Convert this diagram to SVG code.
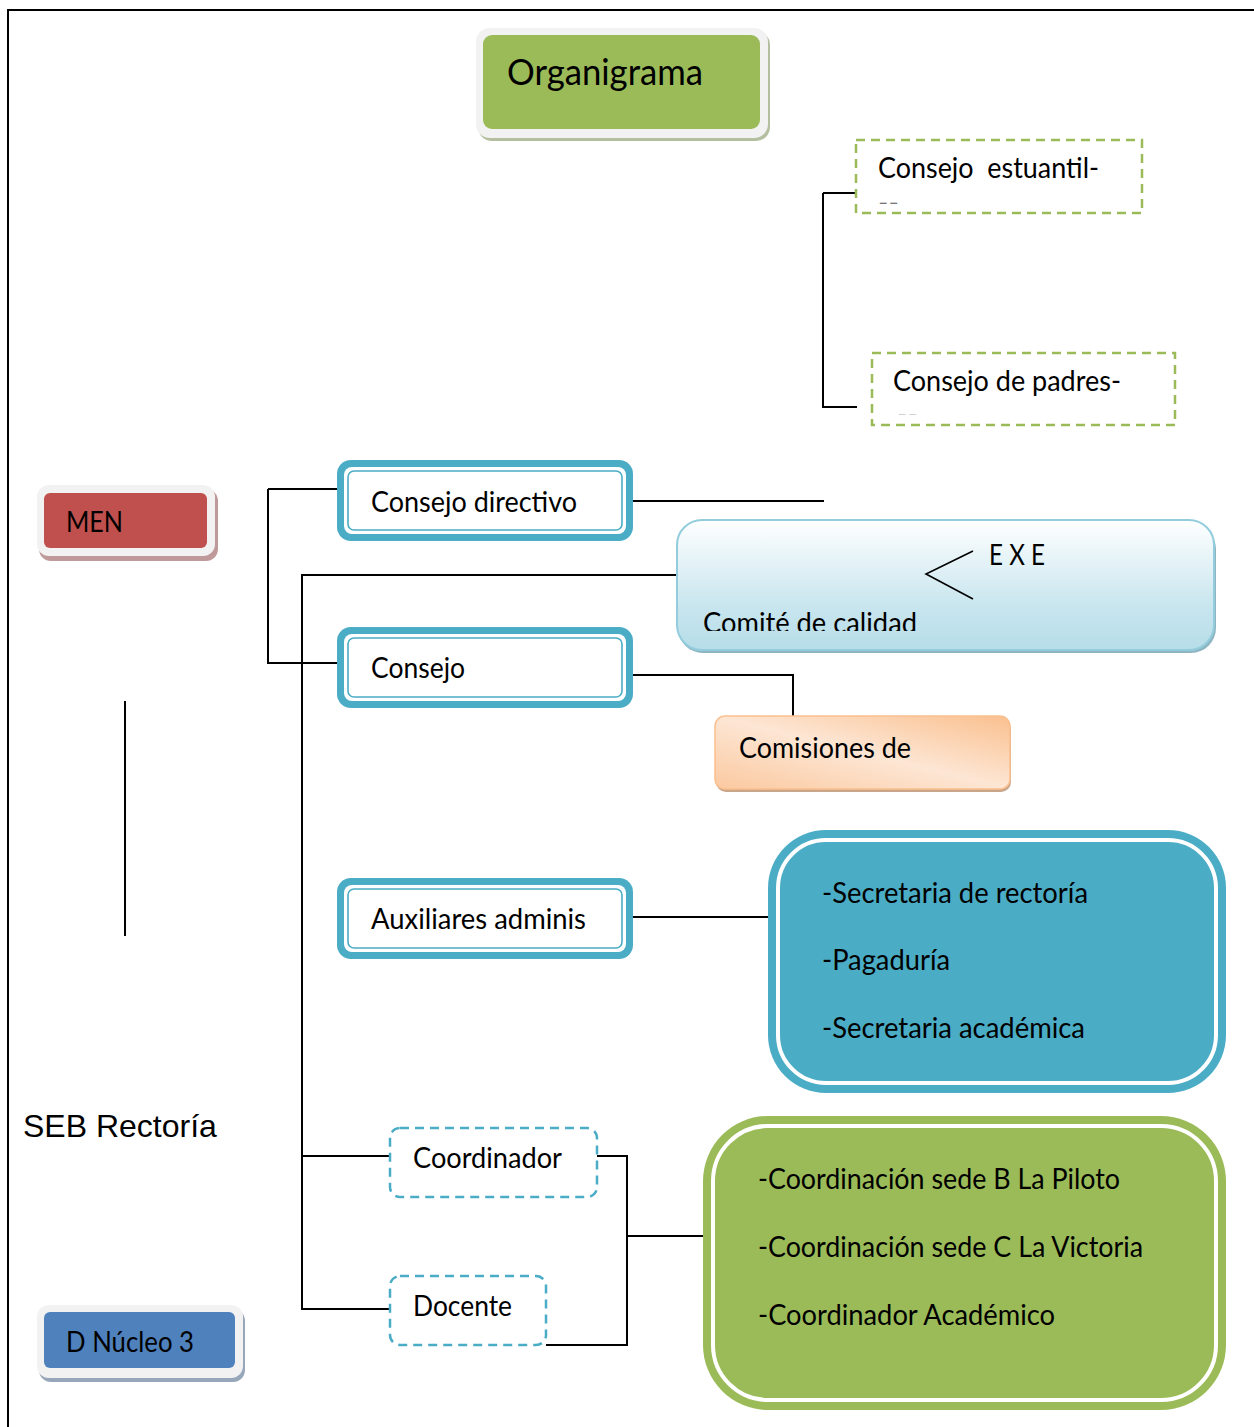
<svg xmlns="http://www.w3.org/2000/svg" width="1254" height="1427" viewBox="0 0 1254 1427">
<style>
.t{font-family:Lato,"Open Sans","Noto Sans",sans-serif;font-size:28px;fill:#000;white-space:pre}
.conn{stroke:#000;stroke-width:2;fill:none}
.bo{fill:#4bacc6}
.bw{fill:#fff}
.bl{fill:none;stroke:#4bacc6;stroke-width:1.6}
.dg{fill:#fff;stroke:#9bbb59;stroke-width:2.5;stroke-dasharray:9 6}
.db{fill:#fff;stroke:#4bacc6;stroke-width:2.5;stroke-dasharray:9 6}
.pl{fill:#f2f2f2}
</style>
<defs>
<linearGradient id="gCal" x1="0" y1="0" x2="0" y2="1">
<stop offset="0" stop-color="#ffffff"/>
<stop offset="0.65" stop-color="#c9e6ef"/>
<stop offset="1" stop-color="#b6dde8"/>
</linearGradient>
<linearGradient id="gCom" x1="1" y1="0" x2="0" y2="1">
<stop offset="0" stop-color="#fac08f"/>
<stop offset="0.5" stop-color="#fde6d4"/>
<stop offset="1" stop-color="#fbc9a0"/>
</linearGradient>
<clipPath id="cEst"><rect x="856" y="140" width="286" height="63.5"/></clipPath>
<clipPath id="cPad"><rect x="872" y="353" width="303" height="62"/></clipPath>
<clipPath id="cCal"><rect x="677" y="520" width="538" height="111"/></clipPath>
</defs>

<path d="M8,1427 V10 H1254" stroke="#000" stroke-width="2" fill="none"/>

<g id="connectors">
<path class="conn" d="M823,193 H856 M823,193 V407 H857"/>
<path class="conn" d="M633,501 H824"/>
<path class="conn" d="M268,489 H345 M268,489 V663 H345"/>
<path class="conn" d="M677,575 H302 V1309 H390 M302,1156 H390"/>
<path class="conn" d="M627,675 H793 V716"/>
<path class="conn" d="M627,917 H780"/>
<path class="conn" d="M597,1156 H627 V1345 H546 M627,1236 H703"/>
<path class="conn" d="M125,701 V936"/>
</g>

<g id="organigrama">
<rect x="478" y="31" width="292" height="110" rx="14" fill="#b3bf9f"/>
<rect x="476" y="28" width="292" height="110" rx="14" class="pl"/>
<rect x="483" y="35" width="277" height="94" rx="9" fill="#9bbb59"/>
<text class="t" x="507" y="85" style="font-size:36px" textLength="196" lengthAdjust="spacingAndGlyphs">Organigrama</text>
</g>

<g id="consejo-estudiantil">
<rect class="dg" x="856" y="140" width="286" height="73"/>
<text class="t" x="878" y="178" textLength="221" lengthAdjust="spacingAndGlyphs">Consejo  estuantil-</text>
<text class="t" x="878" y="213" clip-path="url(#cEst)">--</text>
</g>

<g id="consejo-padres">
<rect class="dg" x="872" y="353" width="303" height="72"/>
<text class="t" x="893" y="391" textLength="228" lengthAdjust="spacingAndGlyphs">Consejo de padres-</text>
<text class="t" x="897" y="425" clip-path="url(#cPad)">--</text>
</g>

<g id="men">
<rect x="39" y="489" width="179" height="72" rx="12" fill="#c09a9a"/>
<rect x="37" y="485" width="178" height="71" rx="12" class="pl"/>
<rect x="44" y="493" width="163" height="55" rx="6" fill="#c0504d"/>
<text class="t" x="66" y="532" textLength="57" lengthAdjust="spacingAndGlyphs">MEN</text>
</g>

<g id="consejo-directivo">
<rect class="bo" x="337" y="460" width="296" height="81" rx="14"/>
<rect class="bw" x="344" y="467" width="282" height="67" rx="8"/>
<rect class="bl" x="348" y="471" width="274" height="59" rx="6"/>
<text class="t" x="371" y="512" textLength="206" lengthAdjust="spacingAndGlyphs">Consejo directivo</text>
</g>

<g id="comite-calidad">
<rect x="678" y="524" width="538" height="129" rx="25" fill="#8fb5c2"/>
<rect x="677" y="520" width="537" height="130" rx="25" fill="url(#gCal)" stroke="#93cddd" stroke-width="2"/>
<polyline points="973,551 926,574 973,599" fill="none" stroke="#000" stroke-width="1.6"/>
<text class="t" x="989" y="565" textLength="56" lengthAdjust="spacingAndGlyphs">E X E</text>
<text class="t" x="703" y="633" clip-path="url(#cCal)" textLength="214" lengthAdjust="spacingAndGlyphs">Comité de calidad</text>
</g>

<g id="consejo">
<rect class="bo" x="337" y="627" width="296" height="81" rx="14"/>
<rect class="bw" x="344" y="634" width="282" height="67" rx="8"/>
<rect class="bl" x="348" y="638" width="274" height="59" rx="6"/>
<text class="t" x="371" y="678" textLength="94" lengthAdjust="spacingAndGlyphs">Consejo</text>
</g>

<g id="comisiones">
<rect x="716" y="719" width="295" height="73" rx="10" fill="#c9a58a"/>
<rect x="715" y="716" width="295" height="73" rx="10" fill="url(#gCom)" stroke="#fac08f" stroke-width="1.5"/>
<text class="t" x="739" y="758" textLength="172" lengthAdjust="spacingAndGlyphs">Comisiones de</text>
</g>

<g id="auxiliares">
<rect class="bo" x="337" y="878" width="296" height="81" rx="14"/>
<rect class="bw" x="344" y="885" width="282" height="67" rx="8"/>
<rect class="bl" x="348" y="889" width="274" height="59" rx="6"/>
<text class="t" x="371" y="929" textLength="215" lengthAdjust="spacingAndGlyphs">Auxiliares adminis</text>
</g>

<g id="secretarias">
<rect class="bo" x="768" y="830" width="458" height="263" rx="58"/>
<rect x="778" y="840" width="438" height="243" rx="48" fill="none" stroke="#fff" stroke-width="4"/>
<text class="t" x="822" y="903" textLength="266" lengthAdjust="spacingAndGlyphs">-Secretaria de rectoría</text>
<text class="t" x="822" y="970" textLength="128" lengthAdjust="spacingAndGlyphs">-Pagaduría</text>
<text class="t" x="822" y="1038" textLength="263" lengthAdjust="spacingAndGlyphs">-Secretaria académica</text>
</g>

<g id="seb-rectoria">
<text x="23" y="1137" font-family="'Liberation Sans',Arial,sans-serif" font-size="32" fill="#000">SEB Rectoría</text>
</g>

<g id="coordinador">
<rect class="db" x="390" y="1128" width="207" height="69" rx="10"/>
<text class="t" x="413" y="1168" textLength="149" lengthAdjust="spacingAndGlyphs">Coordinador</text>
</g>

<g id="docente">
<rect class="db" x="390" y="1276" width="156" height="69" rx="10"/>
<text class="t" x="413" y="1316" textLength="99" lengthAdjust="spacingAndGlyphs">Docente</text>
</g>

<g id="coordinaciones">
<rect x="703" y="1116" width="523" height="294" rx="65" fill="#9bbb59"/>
<rect x="713" y="1126" width="503" height="274" rx="55" fill="none" stroke="#fff" stroke-width="4"/>
<text class="t" x="758" y="1189" textLength="362" lengthAdjust="spacingAndGlyphs">-Coordinación sede B La Piloto</text>
<text class="t" x="758" y="1257" textLength="385" lengthAdjust="spacingAndGlyphs">-Coordinación sede C La Victoria</text>
<text class="t" x="758" y="1325" textLength="297" lengthAdjust="spacingAndGlyphs">-Coordinador Académico</text>
</g>

<g id="d-nucleo">
<rect x="39" y="1309" width="206" height="73" rx="12" fill="#97a6b9"/>
<rect x="37" y="1305" width="206" height="73" rx="12" class="pl"/>
<rect x="44" y="1312" width="191" height="56" rx="6" fill="#4f81bd"/>
<text class="t" x="66" y="1352" textLength="128" lengthAdjust="spacingAndGlyphs">D Núcleo 3</text>
</g>
</svg>
